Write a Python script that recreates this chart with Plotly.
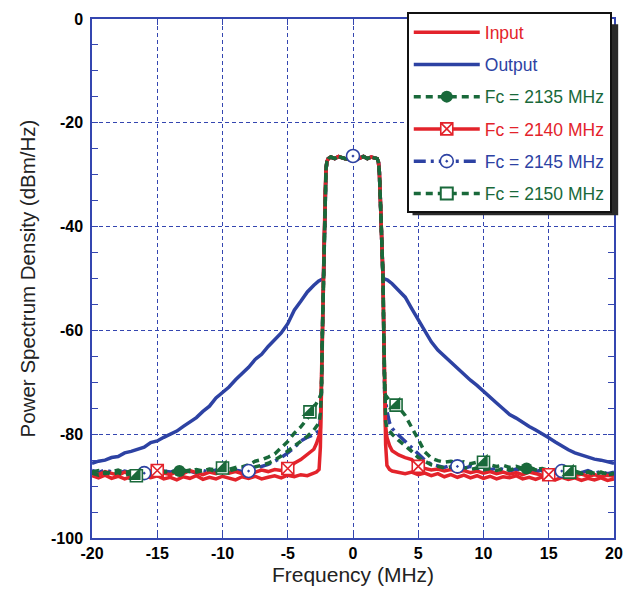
import plotly.graph_objects as go

# ---------------- data ----------------
# sampling frequencies of the spectrum skirts (MHz)
L_X = [-20.0, -19.5, -19.0, -18.5, -18.0, -17.5, -17.0, -16.5, -16.0, -15.5,
       -15.0, -14.5, -14.0, -13.5, -13.0, -12.5, -12.0, -11.5, -11.0, -10.5,
       -10.0, -9.5, -9.0, -8.5, -8.0, -7.5, -7.0, -6.5, -6.0, -5.5,
       -5.0, -4.5, -4.0, -3.5, -3.0, -2.8, -2.6, -2.5]
R_X = [2.5, 2.6, 2.8, 3.0, 3.5, 4.0, 4.5, 5.0, 5.5, 6.0,
       6.5, 7.0, 7.5, 8.0, 8.5, 9.0, 9.5, 10.0, 10.5, 11.0,
       11.5, 12.0, 12.5, 13.0, 13.5, 14.0, 14.5, 15.0, 15.5, 16.0,
       16.5, 17.0, 17.5, 18.0, 18.5, 19.0, 19.5, 20.0]

# pass band shared by all measured curves
PB_X = [-2.42, -2.35, -2.27, -2.2, -2.13, -2.07, -2.0, -1.9, -1.7, -1.4,
        -1.1, -0.8, -0.5, -0.2, 0.0, 0.2, 0.5, 0.8, 1.1, 1.4,
        1.7, 1.85, 1.95, 2.02, 2.1, 2.2, 2.3, 2.36, 2.42]
PB_Y = [-72.0, -61.0, -50.0, -41.0, -33.0, -29.0, -27.5, -26.9, -26.6, -26.9,
        -26.5, -26.8, -27.0, -27.1, -26.9, -27.1, -26.8, -26.5, -26.9, -26.6,
        -26.8, -26.9, -27.6, -29.5, -35.0, -42.5, -50.0, -61.0, -72.0]

INPUT_L = [-88.0, -88.4, -87.9, -88.5, -88.1, -88.6, -88.2, -88.7, -88.1, -88.4,
           -88.0, -88.6, -88.3, -88.8, -88.2, -88.5, -88.0, -88.7, -88.3, -88.6,
           -88.1, -88.4, -88.8, -88.2, -88.5, -88.1, -88.6, -88.3, -88.0, -88.4,
           -87.9, -88.2, -87.8, -88.0, -87.6, -87.3, -86.8, -82.5]
INPUT_R = [-82.0, -86.0, -86.8, -87.1, -87.4, -87.6, -87.3, -87.8, -87.5, -88.0,
           -87.6, -88.2, -87.8, -88.3, -87.9, -88.4, -88.0, -88.5, -88.1, -88.6,
           -88.2, -88.4, -88.0, -88.6, -88.3, -88.7, -88.2, -88.5, -88.8, -88.3,
           -88.7, -88.4, -88.9, -88.5, -88.8, -88.4, -88.9, -88.6]

OUT_L_X = L_X[:35] + [-2.65]
OUT_L = [-85.6, -85.2, -85.0, -84.5, -84.3, -83.6, -83.3, -82.9, -82.5, -81.6,
         -81.3, -80.6, -80.0, -79.4, -78.5, -77.6, -76.8, -75.6, -74.6, -73.0,
         -71.9, -70.9, -69.5, -68.3, -67.1, -65.6, -64.6, -63.1, -61.9, -60.5,
         -58.7, -56.1, -54.4, -52.6, -51.3, -50.5]
OUT_R_X = [2.65] + R_X[3:]
OUT_R = [-50.3, -51.0, -52.3, -53.6, -55.8, -57.9, -59.8, -62.2, -63.8, -65.0,
         -66.2, -67.3, -68.4, -69.6, -70.6, -71.8, -72.9, -74.0, -75.1, -76.2,
         -76.9, -77.8, -78.5, -79.2, -79.9, -80.7, -81.5, -82.3, -83.0, -83.6,
         -84.0, -84.5, -84.8, -85.0, -85.3, -85.6]

F2135_L = [-87.3, -87.0, -87.6, -87.2, -86.9, -87.4, -87.1, -87.5, -87.0, -87.3,
           -86.8, -87.2, -87.4, -87.0, -87.2, -86.9, -87.3, -87.0, -86.8, -87.2,
           -86.9, -87.1, -86.7, -86.9, -86.6, -86.4, -86.0, -85.6, -85.0, -84.2,
           -83.3, -82.4, -81.4, -80.4, -79.2, -78.4, -77.8, -76.0]
F2135_R = [-77.5, -78.8, -79.5, -80.0, -81.2, -82.2, -83.3, -84.5, -85.3, -85.9,
           -86.2, -86.5, -86.3, -86.7, -86.4, -86.8, -86.5, -86.9, -86.6, -87.0,
           -86.7, -86.9, -86.6, -86.8, -86.5, -86.9, -87.2, -86.8, -87.1, -87.4,
           -87.0, -87.3, -87.6, -87.2, -87.5, -87.3, -87.7, -87.5]

F2140_L = [-87.4, -87.8, -87.2, -87.6, -87.9, -87.3, -87.7, -87.2, -87.6, -87.1,
           -87.0, -87.5, -87.8, -87.2, -87.6, -87.0, -87.4, -87.8, -87.3, -87.6,
           -87.1, -87.5, -87.2, -87.6, -87.0, -87.3, -86.9, -87.2, -86.8, -87.0,
           -86.6, -85.6, -84.9, -83.9, -82.9, -81.8, -80.3, -78.8]
F2140_R = [-78.5, -80.6, -82.2, -83.2, -84.0, -84.5, -84.9, -86.3, -86.6, -86.9,
           -86.7, -87.1, -86.8, -87.3, -87.0, -87.4, -87.1, -87.5, -87.2, -87.6,
           -87.3, -87.7, -87.4, -87.8, -87.3, -87.6, -87.9, -87.8, -87.5, -87.9,
           -87.6, -88.0, -87.7, -88.1, -87.8, -88.2, -87.9, -88.1]

F2145_L = [-87.0, -87.4, -86.9, -87.3, -87.6, -87.1, -87.4, -87.0, -87.4, -87.2,
           -87.6, -87.1, -87.3, -86.9, -87.4, -87.1, -87.5, -87.0, -87.3, -86.9,
           -87.2, -87.4, -86.9, -87.2, -87.0, -86.6, -86.3, -85.8, -85.2, -84.5,
           -83.6, -82.6, -81.3, -80.6, -80.1, -79.6, -79.3, -77.0]
F2145_R = [-73.5, -75.5, -77.8, -78.9, -80.2, -81.4, -82.8, -84.0, -85.0, -85.8,
           -86.1, -86.4, -86.0, -86.3, -86.6, -86.2, -86.7, -86.4, -86.9, -86.5,
           -86.8, -87.1, -86.7, -87.0, -86.8, -87.2, -86.9, -87.3, -87.0, -87.2,
           -87.5, -87.1, -87.4, -87.0, -87.5, -87.2, -87.6, -87.3]

F2150_L = [-87.5, -87.9, -87.3, -87.7, -87.4, -87.9, -87.6, -88.0, -87.5, -87.2,
           -87.6, -87.3, -87.0, -87.4, -86.9, -87.2, -86.8, -87.1, -86.7, -86.9,
           -86.5, -86.8, -86.4, -86.3, -85.9, -85.2, -84.9, -84.4, -83.8, -82.6,
           -81.4, -79.8, -78.6, -77.0, -75.0, -74.0, -73.2, -72.6]
F2150_R = [-72.5, -72.9, -73.5, -73.9, -74.8, -76.4, -78.6, -81.0, -83.4, -84.6,
           -85.1, -85.4, -85.2, -85.6, -85.3, -85.7, -85.4, -85.6, -85.9, -86.2,
           -86.0, -86.4, -86.2, -86.6, -86.4, -86.8, -86.6, -87.0, -86.8, -87.2,
           -87.4, -87.1, -87.5, -87.3, -87.7, -87.4, -87.8, -87.6]

# marker positions
M2135_X = [-13.3, 13.3]
M2135_Y = [-87.1, -86.6]
M2140_X = [-15.0, -5.0, 5.0, 15.0]
M2140_Y = [-87.0, -86.6, -86.2, -87.8]
M2145_X = [-16.0, -8.0, 0.0, 8.0, 16.0]
M2145_Y = [-87.5, -87.1, -26.4, -86.2, -87.1]
M2150_X = [-16.6, -10.0, -3.3, 3.3, 10.0, 16.6]
M2150_Y = [-88.0, -86.5, -75.7, -74.4, -85.4, -87.3]

X_TICKS = [-20, -15, -10, -5, 0, 5, 10, 15, 20]
X_LABELS = ["-20", "-15", "-10", "-5", "0", "5", "10", "15", "20"]
Y_TICKS = [-100, -80, -60, -40, -20, 0]
Y_LABELS = ["-100", "-80", "-60", "-40", "-20", "0"]

for arr in (INPUT_L, INPUT_R, F2135_L, F2135_R, F2140_L, F2140_R,
            F2145_L, F2145_R, F2150_L, F2150_R):
    assert len(arr) == 38
assert len(OUT_L) == len(OUT_L_X) and len(OUT_R) == len(OUT_R_X)
assert len(PB_X) == len(PB_Y)

# ---------------- styling ----------------
RED = "#e3232b"
BLUE = "#2d42a3"
GREEN = "#19693a"
AXC = "#3446b0"
FONT = "Liberation Sans, Arial, sans-serif"
GDASH = "7px,5px"
BDASH = "12px,5px,3px,5px"


def full(left, right):
    return L_X + PB_X + R_X, left + PB_Y + right


fig = go.Figure()

out_x = OUT_L_X + PB_X[2:27] + OUT_R_X
out_y = OUT_L + PB_Y[2:27] + OUT_R
fig.add_trace(go.Scatter(x=out_x, y=out_y, mode="lines",
                         line=dict(color=BLUE, width=3.5),
                         name=f"<span style='color:{BLUE}'>Output</span>",
                         legendgroup="g2", legendrank=2))

x, y = full(F2145_L, F2145_R)
fig.add_trace(go.Scatter(x=x, y=y, mode="lines", showlegend=False,
                         line=dict(color=BLUE, width=3.5, dash=BDASH)))

x, y = full(INPUT_L, INPUT_R)
fig.add_trace(go.Scatter(x=x, y=y, mode="lines",
                         line=dict(color=RED, width=3.5),
                         name=f"<span style='color:{RED}'>Input</span>",
                         legendgroup="g1", legendrank=1))

x, y = full(F2140_L, F2140_R)
fig.add_trace(go.Scatter(x=x, y=y, mode="lines", showlegend=False,
                         line=dict(color=RED, width=3.5)))

x, y = full(F2135_L, F2135_R)
fig.add_trace(go.Scatter(x=x, y=y, mode="lines", showlegend=False,
                         line=dict(color=GREEN, width=3.5, dash=GDASH)))

x, y = full(F2150_L, F2150_R)
fig.add_trace(go.Scatter(x=x, y=y, mode="lines", showlegend=False,
                         line=dict(color=GREEN, width=3.5, dash=GDASH)))

# markers
fig.add_trace(go.Scatter(x=M2135_X, y=M2135_Y, mode="markers", showlegend=False,
                         marker=dict(symbol="circle", size=12, color=GREEN)))
fig.add_trace(go.Scatter(x=M2140_X, y=M2140_Y, mode="markers", showlegend=False,
                         marker=dict(symbol="square-x", size=12, color="white",
                                     line=dict(color=RED, width=1.6))))
fig.add_trace(go.Scatter(x=M2145_X, y=M2145_Y, mode="markers", showlegend=False,
                         marker=dict(symbol="circle-dot", size=13, color="white",
                                     line=dict(color=BLUE, width=1.6))))
fig.add_trace(go.Scatter(x=M2150_X, y=M2150_Y, mode="markers", showlegend=False,
                         marker=dict(symbol="square", size=12, color="white",
                                     line=dict(color=GREEN, width=1.6))))
fig.add_trace(go.Scatter(x=M2150_X, y=M2150_Y, mode="markers", showlegend=False,
                         marker=dict(symbol="triangle-se", size=14, color=GREEN,
                                     line=dict(width=0))))

# legend entries
fig.add_trace(go.Scatter(x=[None], y=[None], mode="lines+markers",
                         name=f"<span style='color:{GREEN}'>Fc = 2135 MHz</span>",
                         legendgroup="g3", legendrank=3,
                         line=dict(color=GREEN, width=3.5, dash=GDASH),
                         marker=dict(symbol="circle", size=12, color=GREEN)))
fig.add_trace(go.Scatter(x=[None], y=[None], mode="lines+markers",
                         name=f"<span style='color:{RED}'>Fc = 2140 MHz</span>",
                         legendgroup="g4", legendrank=4,
                         line=dict(color=RED, width=3.5),
                         marker=dict(symbol="square-x", size=12, color="white",
                                     line=dict(color=RED, width=1.6))))
fig.add_trace(go.Scatter(x=[None], y=[None], mode="lines+markers",
                         name=f"<span style='color:{BLUE}'>Fc = 2145 MHz</span>",
                         legendgroup="g5", legendrank=5,
                         line=dict(color=BLUE, width=3.5, dash=BDASH),
                         marker=dict(symbol="circle-dot", size=13, color="white",
                                     line=dict(color=BLUE, width=1.6))))
fig.add_trace(go.Scatter(x=[None], y=[None], mode="lines+markers",
                         name=f"<span style='color:{GREEN}'>Fc = 2150 MHz</span>",
                         legendgroup="g6", legendrank=6,
                         line=dict(color=GREEN, width=3.5, dash=GDASH),
                         marker=dict(symbol="square", size=12, color="white",
                                     line=dict(color=GREEN, width=2))))

axis_common = dict(
    showline=True, linecolor=AXC, linewidth=1.5, mirror="ticks",
    ticks="inside", ticklen=6, tickcolor=AXC, tickwidth=1.2,
    showgrid=True, gridcolor=AXC, gridwidth=1, griddash="4px,3px",
    zeroline=False,
    tickfont=dict(family=FONT, size=16, color="black", weight="bold"),
)

# drop shadow behind the legend box
fig.add_shape(type="rect", xref="paper", yref="paper",
              x0=0.614, x1=1.008, y0=0.622, y1=0.99,
              fillcolor="#2a2a2a", line=dict(width=0), layer="above")

fig.update_layout(
    width=636, height=596,
    margin=dict(l=92, r=22, t=15, b=58),
    paper_bgcolor="white", plot_bgcolor="white",
    font=dict(family=FONT, color="#222"),
    xaxis=dict(range=[-20, 20], tickvals=X_TICKS, ticktext=X_LABELS,
               title=dict(text="Frequency (MHz)", standoff=6,
                          font=dict(family=FONT, size=21, color="#222")),
               **axis_common),
    yaxis=dict(range=[-100, 0], tickvals=Y_TICKS, ticktext=Y_LABELS,
               ticklabelstandoff=4,
               minor=dict(dtick=5, tick0=0, ticks="inside", ticklen=6,
                          tickcolor=AXC, showgrid=False),
               title=dict(text="Power Spectrum Density (dBm/Hz)", standoff=10,
                          font=dict(family=FONT, size=20.5, color="#222")),
               **axis_common),
    legend=dict(x=0.603, y=1.013, xanchor="left", yanchor="top",
                bgcolor="white", bordercolor="#111", borderwidth=2,
                font=dict(family=FONT, size=17.5),
                traceorder="grouped", tracegroupgap=6.5, itemwidth=66),
    showlegend=True,
)

fig.write_html("out.html")
